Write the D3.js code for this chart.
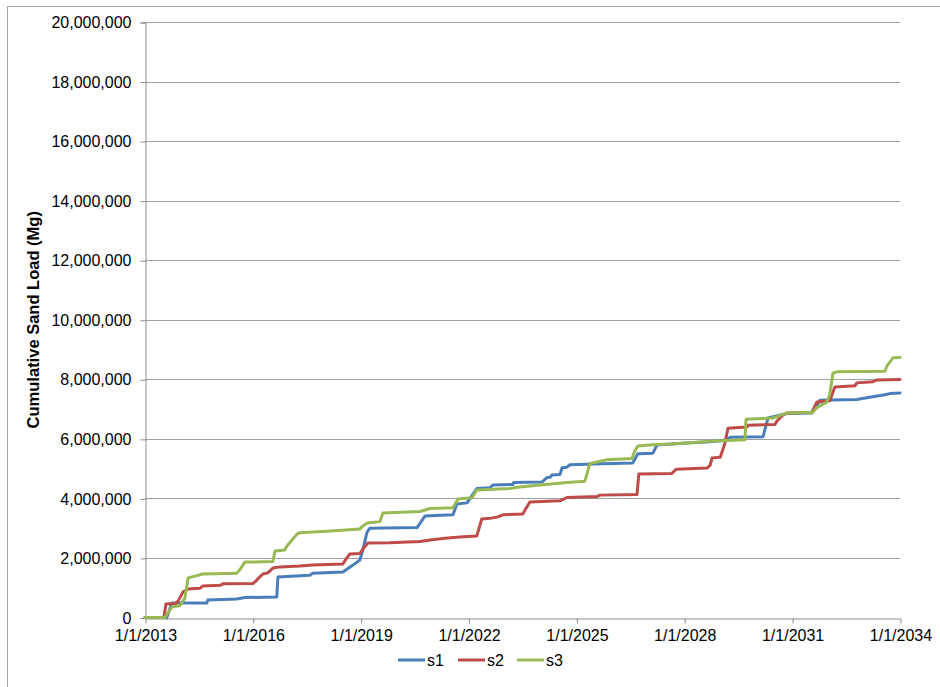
<!DOCTYPE html>
<html>
<head>
<meta charset="utf-8">
<script src="https://cdn.jsdelivr.net/npm/d3@7"></script>
<style>
  html, body { margin: 0; padding: 0; background: #fff; }
  svg { display: block; }
  text { font-family: "Liberation Sans", Arial, sans-serif; fill: #000; }
</style>
</head>
<body>
<div id="chart"></div>
<script>
// ---- data ----
const seriesNames = ["s1", "s2", "s3"];
const seriesColors = ["#4a7ebb", "#be4b48", "#98b954"];

const s1Dates = ["2013-01-01","2013-08-11","2013-10-01","2014-09-21","2014-10-01","2015-07-23","2015-10-12","2016-09-01","2016-09-12","2017-08-03","2017-09-02","2018-07-05","2018-10-15","2018-12-24","2019-01-23","2019-03-07","2019-04-05","2020-07-27","2020-10-16","2021-07-27","2021-09-05","2021-12-16","2022-03-26","2022-08-07","2022-09-05","2023-03-28","2023-04-05","2024-01-16","2024-03-07","2024-04-08","2024-04-27","2024-07-17","2024-08-08","2024-09-27","2024-10-27","2025-09-28","2026-07-27","2026-09-17","2027-02-17","2027-03-29","2027-12-19","2028-09-21","2029-03-10","2029-04-09","2030-03-11","2030-05-01","2030-11-10","2031-07-20","2031-10-12","2032-10-19","2033-02-26","2033-07-31","2033-09-20","2034-01-01"];
const s1Values = [0,0,490000,490000,590000,620000,670000,690000,1360000,1420000,1490000,1530000,1760000,1930000,2270000,2870000,3000000,3020000,3410000,3450000,3810000,3850000,4330000,4360000,4450000,4470000,4530000,4550000,4700000,4710000,4790000,4800000,5030000,5050000,5130000,5160000,5190000,5500000,5520000,5790000,5850000,5900000,5960000,6050000,6070000,6700000,6850000,6870000,7300000,7320000,7400000,7480000,7520000,7540000];

const s2Dates = ["2013-01-01","2013-07-13","2013-08-01","2013-11-07","2013-12-03","2014-01-23","2014-03-15","2014-07-13","2014-08-11","2015-02-03","2015-03-04","2016-01-01","2016-02-13","2016-02-21","2016-04-12","2016-06-02","2016-07-23","2016-10-04","2017-04-23","2017-09-02","2018-07-05","2018-07-23","2018-09-12","2018-12-24","2019-01-23","2019-03-15","2019-10-23","2020-08-26","2020-12-06","2021-05-05","2021-10-05","2022-03-26","2022-05-15","2022-08-07","2022-10-26","2022-12-16","2023-07-06","2023-07-27","2023-09-16","2024-07-17","2024-09-27","2025-07-27","2025-08-29","2026-09-08","2026-09-27","2027-08-29","2027-10-10","2028-08-19","2028-09-21","2028-10-09","2029-01-01","2029-02-18","2029-03-21","2029-09-30","2029-10-10","2030-07-10","2030-07-31","2030-10-01","2030-11-10","2031-07-20","2031-09-10","2032-01-19","2032-03-10","2032-09-30","2032-10-19","2033-04-01","2033-05-12","2034-01-01"];
const s2Values = [0,0,450000,470000,550000,860000,960000,980000,1060000,1080000,1130000,1140000,1260000,1300000,1460000,1500000,1660000,1700000,1730000,1760000,1800000,1900000,2130000,2150000,2300000,2500000,2510000,2550000,2600000,2660000,2700000,2740000,3310000,3330000,3380000,3450000,3480000,3600000,3880000,3920000,4030000,4060000,4110000,4130000,4820000,4840000,4980000,5020000,5120000,5360000,5380000,5860000,6360000,6400000,6460000,6480000,6600000,6800000,6870000,6890000,7240000,7280000,7740000,7780000,7880000,7920000,7980000,7990000];

const s3Dates = ["2013-01-01","2013-07-23","2013-08-11","2013-10-01","2013-12-21","2014-02-10","2014-03-15","2014-05-26","2014-08-11","2015-07-23","2015-08-26","2015-10-12","2016-07-23","2016-08-14","2016-11-21","2016-12-13","2017-03-25","2017-04-23","2018-01-23","2018-12-24","2019-01-13","2019-03-07","2019-07-16","2019-08-15","2020-08-26","2020-12-06","2021-07-27","2021-09-16","2022-02-06","2022-03-26","2023-02-25","2023-06-06","2023-12-27","2024-09-27","2025-03-28","2025-05-18","2025-07-27","2025-11-06","2026-07-19","2026-08-18","2026-09-17","2027-02-17","2027-08-29","2028-09-21","2029-09-09","2029-09-20","2030-06-21","2030-10-01","2030-11-10","2031-07-30","2031-09-10","2031-12-20","2032-01-19","2032-02-20","2032-03-31","2033-07-31","2033-08-21","2033-10-23","2034-01-01"];
const s3Values = [0,0,100000,350000,400000,650000,1330000,1390000,1460000,1490000,1620000,1860000,1880000,2230000,2270000,2400000,2800000,2850000,2900000,2970000,3050000,3170000,3220000,3510000,3560000,3660000,3690000,3980000,4020000,4280000,4330000,4380000,4450000,4530000,4580000,5170000,5220000,5300000,5340000,5600000,5760000,5800000,5830000,5920000,5970000,6660000,6700000,6820000,6870000,6890000,7050000,7240000,7500000,8210000,8250000,8270000,8450000,8720000,8730000];

const xTickYears = [2013, 2016, 2019, 2022, 2025, 2028, 2031, 2034];
const yTicks = [0, 2000000, 4000000, 6000000, 8000000, 10000000, 12000000, 14000000, 16000000, 18000000, 20000000];
const yTitle = "Cumulative Sand Load (Mg)";

// ---- drawing ----
const W = 940, H = 687;
const plot = { left: 145, right: 900, top: 22, bottom: 617.5 };
const parse = d3.timeParse("%Y-%m-%d");

const svg = d3.select("#chart").append("svg").attr("width", W).attr("height", H);
svg.append("rect").attr("x", 0).attr("y", 0).attr("width", W).attr("height", H).attr("fill", "#fff");
// outer chart border (only top/left visible in reference)
svg.append("rect").attr("x", 7.5).attr("y", 6.5).attr("width", W + 20).attr("height", H + 20)
  .attr("fill", "none").attr("stroke", "#a6a6a6").attr("stroke-width", 1);

const x = d3.scaleTime()
  .domain([new Date(2013, 0, 1), new Date(2034, 0, 1)])
  .range([plot.left, plot.right]);
const y = d3.scaleLinear().domain([0, 20000000]).range([plot.bottom, plot.top]);

// gridlines
svg.append("g").selectAll("line").data(yTicks.filter(v => v > 0)).join("line")
  .attr("x1", plot.left).attr("x2", plot.right)
  .attr("y1", d => Math.round(y(d)) + 0.5).attr("y2", d => Math.round(y(d)) + 0.5)
  .attr("stroke", "#a0a0a0").attr("stroke-width", 1);

// y axis
const yAxis = d3.axisLeft(y).tickValues(yTicks).tickSize(5).tickPadding(9)
  .tickFormat(d3.format(","));
const gy = svg.append("g").attr("transform", `translate(${plot.left + 0.5},0.5)`).call(yAxis);
gy.select(".domain").attr("stroke", "#8c8c8c");
gy.selectAll(".tick line").attr("stroke", "#8c8c8c");
gy.selectAll(".tick text").attr("font-size", 16).attr("font-family", "Liberation Sans, Arial, sans-serif").attr("fill", "#000");

// x axis
const fmt = d3.timeFormat("%-m/%-d/%Y");
const xAxis = d3.axisBottom(x).tickValues(xTickYears.map(yr => new Date(yr, 0, 1)))
  .tickSize(5).tickSizeOuter(0).tickPadding(6).tickFormat(fmt);
const gx = svg.append("g").attr("transform", `translate(0.5,${Math.round(plot.bottom) + 0.5})`).call(xAxis);
gx.select(".domain").attr("stroke", "#8c8c8c");
gx.selectAll(".tick line").attr("stroke", "#8c8c8c");
gx.selectAll(".tick text").attr("font-size", 16).attr("font-family", "Liberation Sans, Arial, sans-serif").attr("fill", "#000");

// y title
svg.append("text")
  .attr("transform", `translate(39,${(plot.top + plot.bottom) / 2}) rotate(-90)`)
  .attr("text-anchor", "middle")
  .attr("font-size", 16.5).attr("font-weight", "bold")
  .text(yTitle);

// lines
const seriesData = [
  s1Dates.map((d, i) => [parse(d), s1Values[i]]),
  s2Dates.map((d, i) => [parse(d), s2Values[i]]),
  s3Dates.map((d, i) => [parse(d), s3Values[i]])
];
const line = d3.line().x(d => x(d[0])).y(d => y(d[1]));
svg.append("g").selectAll("path").data(seriesData).join("path")
  .attr("d", line)
  .attr("fill", "none")
  .attr("stroke", (d, i) => seriesColors[i])
  .attr("stroke-width", 3)
  .attr("stroke-linejoin", "round")
  .attr("stroke-linecap", "round");

// legend
const legendX = [398, 458, 517];
const lg = svg.append("g").selectAll("g").data(seriesNames).join("g")
  .attr("transform", (d, i) => `translate(${legendX[i]},660)`);
lg.append("line").attr("x1", 0).attr("x2", 27).attr("y1", 0).attr("y2", 0)
  .attr("stroke", (d, i) => seriesColors[i]).attr("stroke-width", 3);
lg.append("text").attr("x", 29).attr("y", 6).attr("font-size", 16).text(d => d);
</script>
</body>
</html>
